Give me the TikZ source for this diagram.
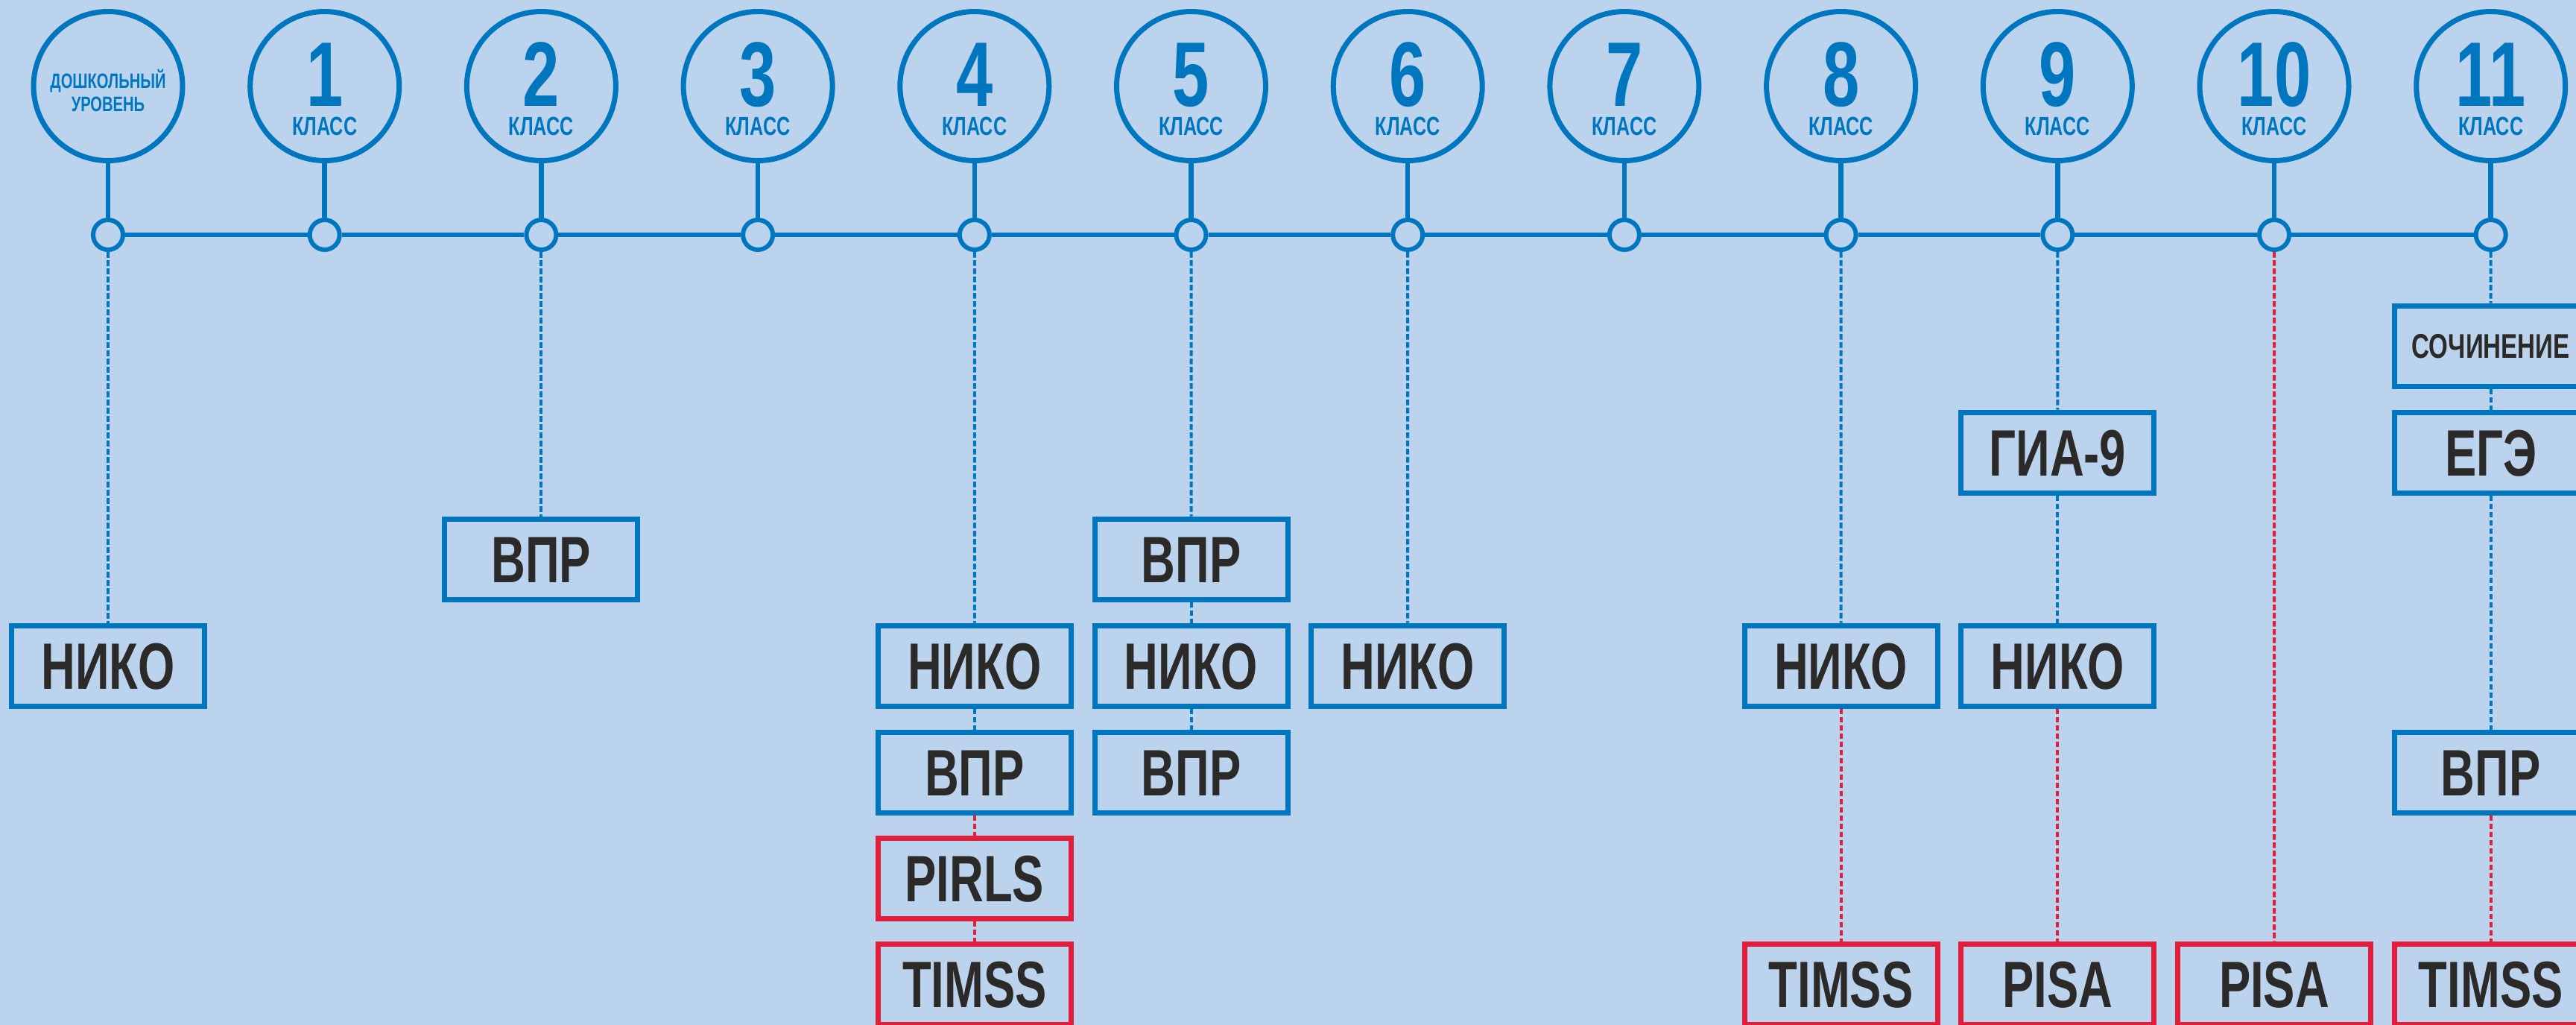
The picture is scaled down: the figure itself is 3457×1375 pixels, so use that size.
\documentclass[tikz,border=0pt]{standalone}
\usepackage{fontspec}
\usepackage{tikz}
\newfontfamily\condfont[FakeStretch=0.72]{Liberation Sans}
\definecolor{bgblue}{HTML}{BCD3EE}
\definecolor{lineblue}{HTML}{0076BF}
\definecolor{linered}{HTML}{E31E3A}
\definecolor{textgray}{HTML}{2B2A29}
\tikzset{
  grade/.style={circle, draw=lineblue, line width=7pt, fill=bgblue, minimum size=200pt, inner sep=0pt},
  knot/.style={circle, draw=lineblue, line width=6pt, fill=bgblue, minimum size=40pt, inner sep=0pt},
  spine/.style={draw=lineblue, line width=6.5pt},
  num/.style={text=lineblue, inner sep=0pt, text height=88pt, text depth=0pt, font=\condfont\bfseries\fontsize{123}{123}\selectfont},
  klass/.style={text=lineblue, inner sep=0pt, text height=25pt, text depth=0pt, font=\condfont\bfseries\fontsize{35}{35}\selectfont},
  preschool/.style={klass, text height=20pt, font=\condfont\bfseries\fontsize{28}{28}\selectfont},
  testbox/.style={rectangle, draw=lineblue, line width=7pt, fill=bgblue, minimum width=259pt, minimum height=108pt, inner sep=0pt,
    text=textgray, text height=63pt, text depth=0pt, font=\condfont\bfseries\fontsize{88}{88}\selectfont},
  intbox/.style={testbox, draw=linered},
  smallbox/.style={testbox, text height=33pt, font=\condfont\bfseries\fontsize{46}{46}\selectfont},
  link/.style={draw=lineblue, line width=4pt, dash pattern=on 7.5pt off 3.5pt},
  intlink/.style={link, draw=linered}
}
\begin{document}
\begin{tikzpicture}[x=1pt, y=-1pt]
  \fill[bgblue] (0,0) rectangle (3457,1375);
  \useasboundingbox (0,0) rectangle (3457,1375);
  \clip (0,0) rectangle (3457,1375);

  % grades along the time line
  \foreach \i in {0,...,11} {
    \node[grade] (c\i) at ({145+290.7*\i}, 115.5) {};
    \node[knot] (d\i) at ({145+290.7*\i}, 315) {};
    \draw[spine] (c\i) -- (d\i);
  }
  \foreach \i [count=\j from 1] in {0,...,10}
    \draw[spine] (d\i) -- (d\j);

  \node[preschool, yshift=7pt] (pre1) at (c0) {ДОШКОЛЬНЫЙ};
  \node[preschool, yshift=-24pt] (pre2) at (c0) {УРОВЕНЬ};
  \foreach \i in {1,...,11} {
    \node[num, yshift=16.5pt] (n\i) at (c\i) {\i};
    \node[klass, yshift=-54pt] (k\i) at (c\i) {КЛАСС};
  }

  % tests
  \node[testbox] (niko0) at (145, 893) {НИКО};
  \node[testbox] (vpr2) at (726.4, 750) {ВПР};
  \node[testbox] (niko4) at (1307.8, 893) {НИКО};
  \node[testbox] (vpr4) at (1307.8, 1036) {ВПР};
  \node[intbox] (pirls4) at (1307.8, 1178) {PIRLS};
  \node[intbox] (timss4) at (1307.8, 1320) {TIMSS};
  \node[testbox] (vpra5) at (1598.5, 750) {ВПР};
  \node[testbox] (niko5) at (1598.5, 893) {НИКО};
  \node[testbox] (vprb5) at (1598.5, 1036) {ВПР};
  \node[testbox] (niko6) at (1889.2, 893) {НИКО};
  \node[testbox] (niko8) at (2470.6, 893) {НИКО};
  \node[intbox] (timss8) at (2470.6, 1320) {TIMSS};
  \node[testbox] (gia9) at (2761.3, 607) {ГИА-9};
  \node[testbox] (niko9) at (2761.3, 893) {НИКО};
  \node[intbox] (pisa9) at (2761.3, 1320) {PISA};
  \node[intbox] (pisa10) at (3052, 1320) {PISA};
  \node[smallbox] (soch11) at (3342.7, 464) {СОЧИНЕНИЕ};
  \node[testbox] (ege11) at (3342.7, 607) {ЕГЭ};
  \node[testbox] (vpr11) at (3342.7, 1036) {ВПР};
  \node[intbox] (timss11) at (3342.7, 1320) {TIMSS};

  % links
  \draw[link] (d0) -- (niko0);
  \draw[link] (d2) -- (vpr2);
  \draw[link] (d4) -- (niko4);
  \draw[link] (niko4) -- (vpr4);
  \draw[intlink] (vpr4) -- (pirls4);
  \draw[intlink] (pirls4) -- (timss4);
  \draw[link] (d5) -- (vpra5);
  \draw[link] (vpra5) -- (niko5);
  \draw[link] (niko5) -- (vprb5);
  \draw[link] (d6) -- (niko6);
  \draw[link] (d8) -- (niko8);
  \draw[intlink] (niko8) -- (timss8);
  \draw[link] (d9) -- (gia9);
  \draw[link] (gia9) -- (niko9);
  \draw[intlink] (niko9) -- (pisa9);
  \draw[intlink] (d10) -- (pisa10);
  \draw[link] (d11) -- (soch11);
  \draw[link] (soch11) -- (ege11);
  \draw[link] (ege11) -- (vpr11);
  \draw[intlink] (vpr11) -- (timss11);
\end{tikzpicture}
\end{document}
